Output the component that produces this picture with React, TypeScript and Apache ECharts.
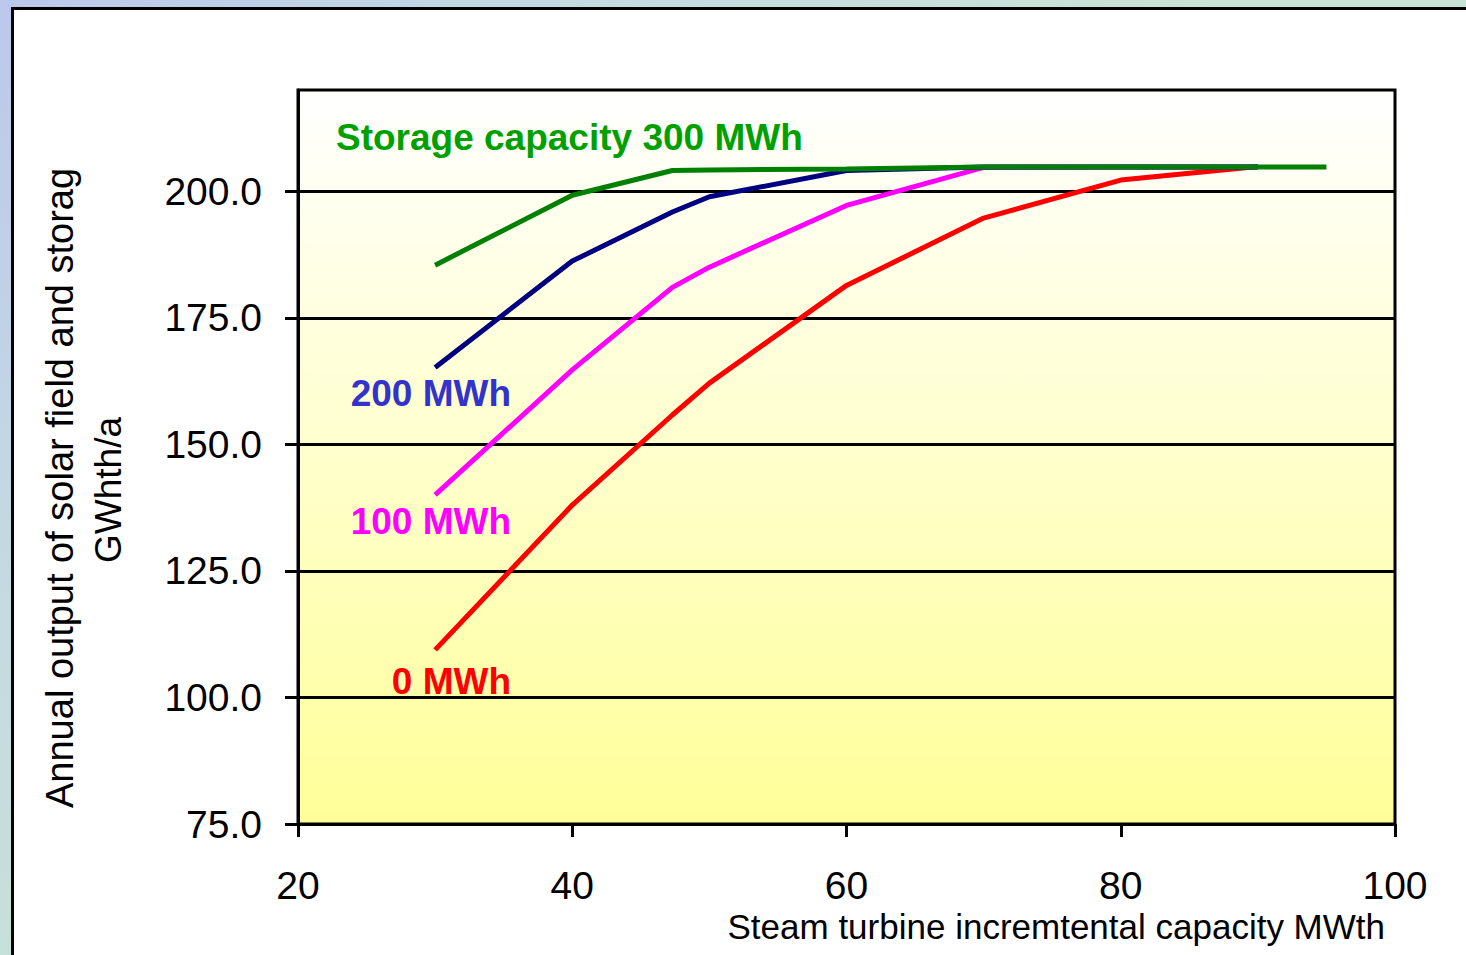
import React, { useEffect, useRef } from "react";
import * as echarts from "echarts";

const xValues = [30, 40, 47.3, 50, 60, 70, 80, 90, 95];
const storage300 = [185.4, 199.2, 204.1, 204.2, 204.4, 204.8, 204.8, 204.8, 204.8];
const storage200 = [165.2, 186.2, 195.9, 198.9, 204.1, 204.8, 204.8, 204.8];
const storage100 = [140.0, 164.7, 181.0, 185.0, 197.2, 204.7, 204.8, 204.8];
const storage0 = [109.4, 138.0, 155.8, 162.1, 181.4, 194.7, 202.2, 204.9];
const yTicks = [75, 100, 125, 150, 175, 200];
const xTicks = [20, 40, 60, 80, 100];

const seriesNames = ["0 MWh", "100 MWh", "200 MWh", "Storage capacity 300 MWh"];
const seriesColors = ["#ff0000", "#ff00ff", "#000080", "#008000"];
const labelColors = ["#ff0000", "#ff00ff", "#3333cc", "#00a000"];

const pairs = (ys: number[]) => ys.map((y, i) => [xValues[i], y]);

export default function App() {
  const ref = useRef<HTMLDivElement>(null);
  useEffect(() => {
    document.body.style.margin = "0";
    const chart = echarts.init(ref.current!, null, { renderer: "svg" });
    const font = "Liberation Sans, Arial, sans-serif";
    const data = [storage0, storage100, storage200, storage300];
    chart.setOption({
      animation: false,
      backgroundColor: "transparent",
      textStyle: { fontFamily: font },
      grid: {
        left: 298,
        top: 90,
        right: 71,
        bottom: 131,
        show: true,
        borderColor: "#000",
        borderWidth: 3,
        backgroundColor: new echarts.graphic.LinearGradient(0, 0, 0, 1, [
          { offset: 0, color: "#ffffff" },
          { offset: 1, color: "#ffff99" },
        ]),
      },
      xAxis: {
        type: "value",
        min: 20,
        max: 100,
        interval: 20,
        axisLine: { lineStyle: { color: "#000", width: 3 } },
        axisTick: { show: true, length: 13, lineStyle: { color: "#000", width: 3 }, customValues: xTicks },
        axisLabel: { color: "#000", fontSize: 39, margin: 42, fontFamily: font, customValues: xTicks },
        splitLine: { show: false },
      },
      yAxis: {
        type: "value",
        min: 75,
        max: 220,
        interval: 25,
        axisLine: { show: true, lineStyle: { color: "#000", width: 3 } },
        axisTick: { show: true, length: 13, lineStyle: { color: "#000", width: 3 }, customValues: yTicks },
        axisLabel: {
          color: "#000",
          fontSize: 39,
          margin: 36,
          fontFamily: font,
          customValues: yTicks,
          formatter: (v: number) => v.toFixed(1),
        },
        splitLine: { show: true, lineStyle: { color: "#000", width: 3 } },
      },
      series: data.map((ys, i) => ({
        type: "line",
        name: seriesNames[i],
        data: pairs(ys),
        showSymbol: false,
        symbol: "none",
        z: 2 + i,
        lineStyle: { color: seriesColors[i], width: 5 },
      })),
      graphic: [
        {
          type: "rect",
          z: -10,
          silent: true,
          shape: { x: 12.5, y: 8.5, width: 1600, height: 1100 },
          style: { fill: "#ffffff", stroke: "#000", lineWidth: 3 },
        },
        {
          type: "text",
          x: 336,
          y: 137,
          style: { text: seriesNames[3], fill: labelColors[3], font: `bold 37px ${font}`, textAlign: "left", textVerticalAlign: "middle" },
        },
        {
          type: "text",
          x: 511,
          y: 393,
          style: { text: seriesNames[2], fill: labelColors[2], font: `bold 37px ${font}`, textAlign: "right", textVerticalAlign: "middle" },
        },
        {
          type: "text",
          x: 511,
          y: 521,
          style: { text: seriesNames[1], fill: labelColors[1], font: `bold 37px ${font}`, textAlign: "right", textVerticalAlign: "middle" },
        },
        {
          type: "text",
          x: 511,
          y: 681,
          style: { text: seriesNames[0], fill: labelColors[0], font: `bold 37px ${font}`, textAlign: "right", textVerticalAlign: "middle" },
        },
        {
          type: "text",
          x: 1385,
          y: 926,
          style: { text: "Steam turbine incremtental capacity MWth", fill: "#000", font: `35px ${font}`, textAlign: "right", textVerticalAlign: "middle" },
        },
        {
          type: "text",
          x: 60,
          y: 808,
          rotation: Math.PI / 2,
          style: { text: "Annual output of solar field and storag", fill: "#000", font: `38px ${font}`, textAlign: "left", textVerticalAlign: "middle" },
        },
        {
          type: "text",
          x: 108,
          y: 490,
          rotation: Math.PI / 2,
          style: { text: "GWhth/a", fill: "#000", font: `37px ${font}`, textAlign: "center", textVerticalAlign: "middle" },
        },
      ],
    });
    return () => chart.dispose();
  }, []);
  return (
    <div
      style={{
        width: 1466,
        height: 955,
        position: "relative",
        overflow: "hidden",
        background: "linear-gradient(135deg, #bcc8ec 0%, #c4dbe0 25%, #c7e3d5 50%, #c7e3d5 100%)",
      }}
    >
      <div ref={ref} style={{ position: "absolute", left: 0, top: 0, width: 1466, height: 955 }} />
    </div>
  );
}
